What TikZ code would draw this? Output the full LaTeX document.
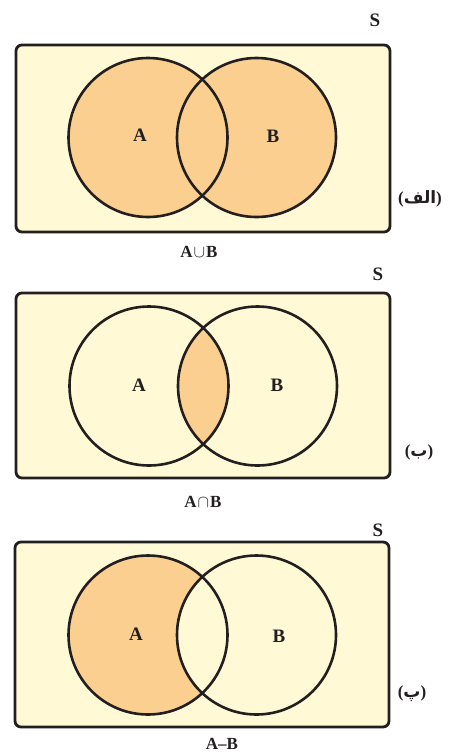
\documentclass[tikz,border=0pt]{standalone}
\usepackage{fontspec}
\setmainfont{Liberation Serif}
\newfontfamily\arabicfont[Script=Arabic]{DejaVu Sans}
\TeXXeTstate=1
\definecolor{bg}{HTML}{FFF9D5}
\definecolor{hl}{HTML}{FBCF8F}
\definecolor{ink}{HTML}{231F20}
\begin{document}
\begin{tikzpicture}[x=1pt,y=-1pt,
  universe/.style={draw=ink,fill=bg,line width=2.8pt,rounded corners=6pt},
  setline/.style={draw=ink,line width=2.6pt},
  setlbl/.style={font=\fontsize{19}{19}\selectfont\bfseries,text=ink,inner sep=0pt},
  slbl/.style={font=\fontsize{19}{19}\selectfont\bfseries,text=ink,inner sep=0pt},
  oplbl/.style={font=\fontsize{17}{17}\selectfont\bfseries,text=ink,inner sep=0pt},
  falbl/.style={font=\fontsize{17}{17}\selectfont\bfseries,text=ink,inner sep=0pt}]
\useasboundingbox (0,0) rectangle (450,756);
% ---------- panel 1: union ----------
\draw[universe] (16,45) rectangle (390,232);
\fill[hl] (148,137.5) circle (79.5) (256.5,137.5) circle (79.5);
\draw[setline] (148,137.5) circle (79.5);
\draw[setline] (256.5,137.5) circle (79.5);
\node[setlbl] (a1) at (140,135) {A};
\node[setlbl] (b1) at (273,136) {B};
\node[slbl] (s1) at (375,20) {S};
\node[oplbl] (o1) at (199,252) {A\kern1pt$\cup$\kern1ptB};
\node[falbl] (f1) at (420,199) {({\arabicfont\bfseries\beginR الف\endR})};
% ---------- panel 2: intersection ----------
\draw[universe] (16,293) rectangle (390,478);
\begin{scope}
\clip (149,386) circle (79.5);
\fill[hl] (257.5,386) circle (79.5);
\end{scope}
\draw[setline] (149,386) circle (79.5);
\draw[setline] (257.5,386) circle (79.5);
\node[setlbl] (a2) at (139,385) {A};
\node[setlbl] (b2) at (277,385) {B};
\node[slbl] (s2) at (378,274) {S};
\node[oplbl] (o2) at (203,502) {A\kern1pt$\cap$\kern1ptB};
\node[falbl] (f2) at (419,452) {({\arabicfont\bfseries\beginR ب\endR})};
% ---------- panel 3: difference ----------
\draw[universe] (15,542) rectangle (389,727);
\fill[hl] (148,635) circle (79.5);
\begin{scope}
\clip (148,635) circle (79.5);
\fill[bg] (256.5,635) circle (79.5);
\end{scope}
\draw[setline] (148,635) circle (79.5);
\draw[setline] (256.5,635) circle (79.5);
\node[setlbl] (a3) at (136,634) {A};
\node[setlbl] (b3) at (279,636) {B};
\node[slbl] (s3) at (378,530) {S};
\node[oplbl] (o3) at (222,744) {A--B};
\node[falbl] (f3) at (412,694) {({\arabicfont\bfseries\beginR پ\endR})};
\end{tikzpicture}
\end{document}
